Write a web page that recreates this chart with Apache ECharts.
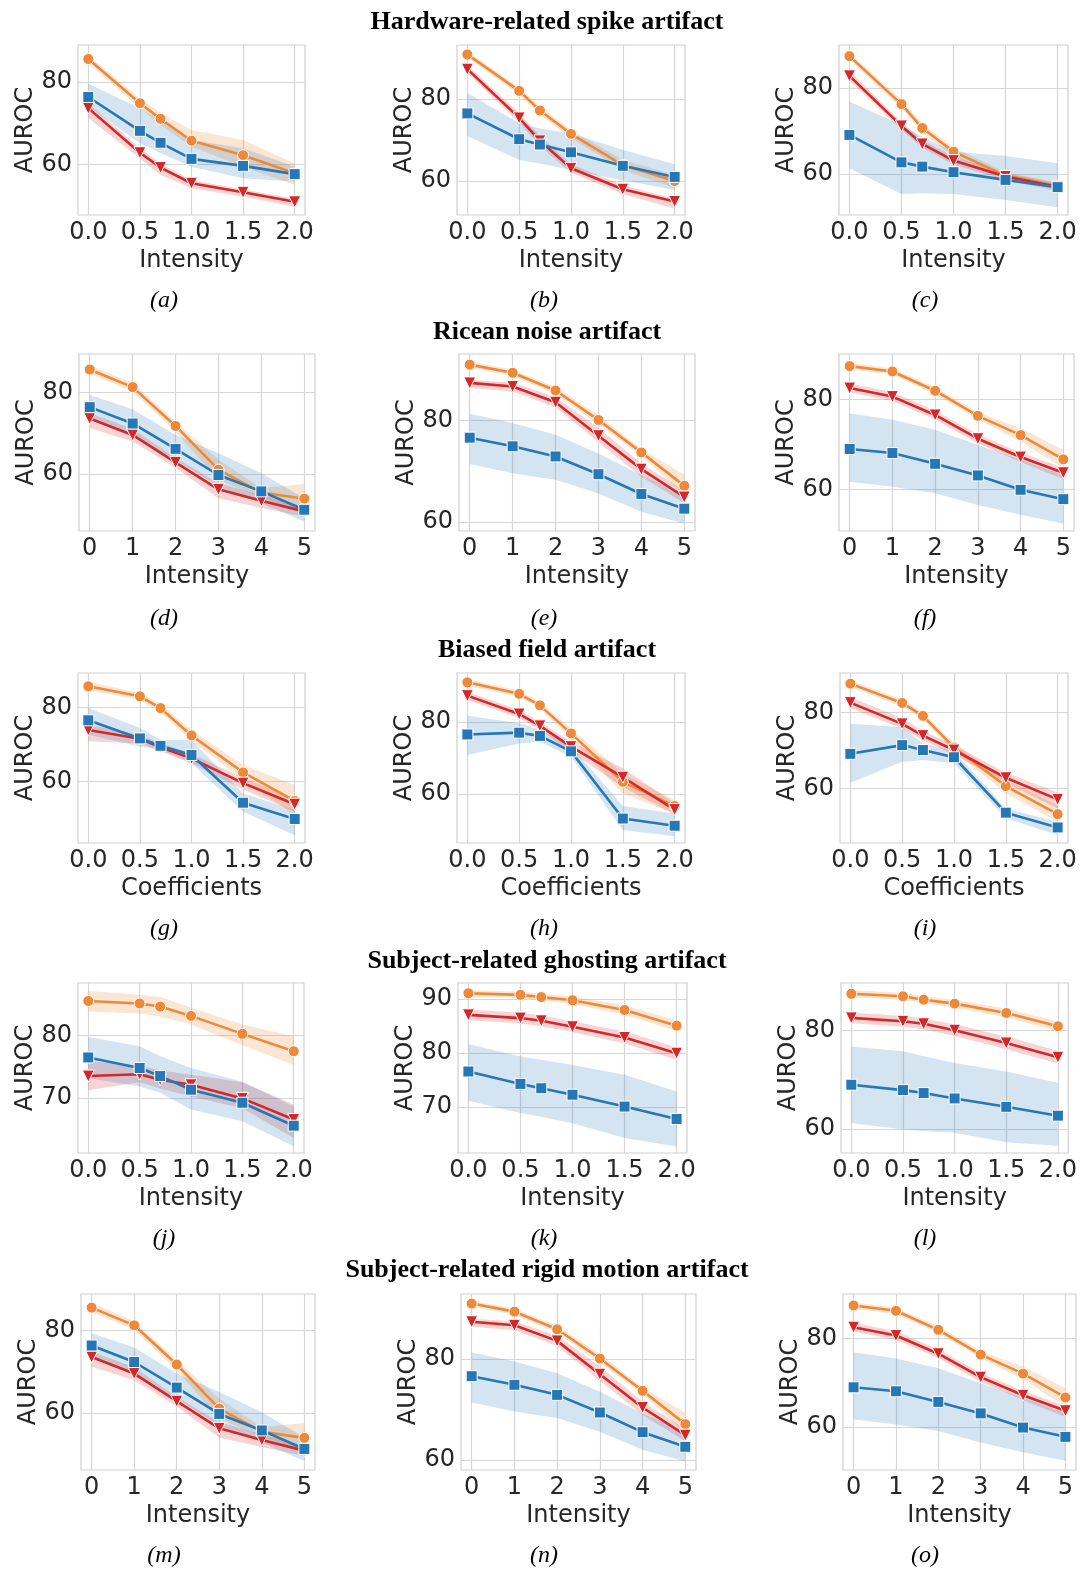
<!DOCTYPE html>
<html>
<head>
<meta charset="utf-8">
<script src="https://cdn.jsdelivr.net/npm/echarts@6/dist/echarts.min.js"></script>
<style>
  html, body { margin: 0; background: #fff; }
  #chart { width: 1080px; height: 1570px; }
</style>
</head>
<body>
<div id="chart"></div>
<script>
// x levels and tick labels
const xLevels2 = [0, 0.5, 0.7, 1.0, 1.5, 2.0];
const xLevels5 = [0, 1, 2, 3, 4, 5];
const xTicks2 = [0, 0.5, 1.0, 1.5, 2.0];
const xTicks5 = [0, 1, 2, 3, 4, 5];
const yTicks6080 = [60, 80];
const yTicks7080 = [70, 80];
const yTicks708090 = [70, 80, 90];

const rowTitles = [
  "Hardware-related spike artifact",
  "Ricean noise artifact",
  "Biased field artifact",
  "Subject-related ghosting artifact",
  "Subject-related rigid motion artifact",
];
const captions = ["(a)", "(b)", "(c)", "(d)", "(e)", "(f)", "(g)", "(h)", "(i)",
  "(j)", "(k)", "(l)", "(m)", "(n)", "(o)"];

// ---- hardware-related spike ----
const aOrange = [85.6, 74.9, 71.1, 65.8, 62.3, 57.9];
const aOrangeLo = [84.6, 73.7, 69.6, 64.4, 59.5, 55.1];
const aOrangeHi = [86.4, 76.1, 72.5, 68.4, 66.0, 60.3];
const aRed = [73.7, 62.9, 59.3, 55.5, 53.3, 51.0];
const aRedLo = [71.3, 61.5, 57.5, 54.3, 52.2, 49.8];
const aRedHi = [74.9, 64.0, 60.3, 56.3, 54.0, 51.8];
const aBlue = [76.4, 68.2, 65.3, 61.4, 59.7, 57.7];
const aBlueLo = [74.1, 65.2, 62.8, 59.5, 56.7, 55.9];
const aBlueHi = [79.6, 73.7, 70.9, 66.0, 64.0, 59.5];

const bOrange = [90.9, 82.0, 77.2, 71.5, 63.9, 60.0];
const bOrangeLo = [90.2, 81.0, 76.2, 70.5, 62.7, 58.3];
const bOrangeHi = [91.5, 82.9, 78.2, 72.5, 65.1, 61.5];
const bRed = [87.3, 75.4, 69.8, 63.1, 58.0, 55.0];
const bRedLo = [86.3, 74.2, 68.6, 62.0, 56.8, 53.2];
const bRedHi = [88.3, 76.6, 71.0, 64.1, 59.0, 55.6];
const bBlue = [76.5, 70.2, 68.9, 67.0, 63.7, 61.0];
const bBlueLo = [71.0, 65.1, 64.3, 62.7, 60.2, 57.8];
const bBlueHi = [81.5, 74.1, 72.8, 71.6, 67.6, 64.1];

const cOrange = [87.5, 76.3, 70.7, 65.2, 59.6, 57.2];
const cOrangeLo = [86.7, 75.3, 69.7, 64.2, 58.8, 56.4];
const cOrangeHi = [88.3, 77.3, 71.7, 66.2, 60.4, 58.0];
const cRed = [82.9, 71.2, 67.0, 63.1, 59.4, 57.0];
const cRedLo = [81.8, 70.3, 66.1, 62.2, 58.6, 56.0];
const cRedHi = [84.0, 72.1, 67.9, 64.0, 60.2, 57.8];
const cBlue = [69.1, 62.7, 61.7, 60.4, 58.6, 56.9];
const cBlueLo = [61.3, 55.3, 55.5, 55.3, 53.9, 52.2];
const cBlueHi = [76.9, 71.4, 68.7, 65.2, 64.2, 62.5];

// ---- ricean noise (same values reused for rigid motion) ----
const dOrange = [85.6, 81.3, 71.8, 61.1, 55.5, 54.0];
const dOrangeLo = [84.5, 80.2, 70.4, 58.6, 54.3, 50.9];
const dOrangeHi = [86.8, 82.3, 72.9, 63.5, 56.6, 57.6];
const dRed = [73.6, 69.6, 62.9, 56.3, 53.5, 50.9];
const dRedLo = [71.3, 68.0, 61.6, 54.1, 51.8, 49.6];
const dRedHi = [74.9, 71.1, 64.0, 57.8, 54.9, 52.1];
const dBlue = [76.4, 72.4, 66.2, 59.8, 55.8, 51.3];
const dBlueLo = [73.3, 69.2, 63.5, 57.0, 52.9, 48.4];
const dBlueHi = [79.4, 75.9, 69.6, 65.1, 60.2, 54.1];

const eOrange = [91.0, 89.4, 85.9, 80.1, 73.7, 67.1];
const eOrangeLo = [90.4, 88.8, 85.2, 79.2, 73.0, 65.3];
const eOrangeHi = [91.6, 90.0, 86.6, 81.0, 74.4, 69.3];
const eRed = [87.4, 86.7, 83.6, 77.0, 70.4, 64.9];
const eRedLo = [86.4, 85.7, 82.6, 75.7, 68.9, 63.7];
const eRedHi = [88.0, 87.5, 84.6, 78.5, 71.5, 66.2];
const eBlue = [76.6, 74.9, 72.9, 69.4, 65.5, 62.6];
const eBlueLo = [71.4, 69.6, 68.3, 65.6, 62.0, 59.7];
const eBlueHi = [81.3, 79.5, 77.2, 73.5, 69.2, 65.6];

const fOrange = [87.5, 86.3, 82.0, 76.4, 72.1, 66.7];
const fOrangeLo = [86.8, 85.6, 81.2, 75.6, 70.7, 64.7];
const fOrangeHi = [88.2, 87.0, 82.8, 77.2, 73.7, 68.8];
const fRed = [82.6, 80.7, 76.6, 71.3, 67.2, 63.7];
const fRedLo = [81.6, 79.7, 75.6, 70.2, 66.1, 62.3];
const fRedHi = [83.6, 81.7, 77.6, 72.3, 68.2, 64.8];
const fBlue = [69.0, 68.1, 65.7, 63.1, 59.9, 57.8];
const fBlueLo = [61.7, 60.6, 59.1, 56.5, 54.3, 52.4];
const fBlueHi = [76.9, 75.5, 73.3, 69.9, 66.6, 63.2];

// ---- biased field ----
const gOrange = [85.7, 83.0, 79.8, 72.4, 62.4, 54.7];
const gOrangeLo = [84.6, 82.0, 78.7, 70.9, 60.4, 50.9];
const gOrangeHi = [86.9, 83.9, 80.9, 73.9, 64.4, 59.0];
const gRed = [73.9, 71.5, 69.2, 66.2, 59.5, 53.8];
const gRedLo = [70.8, 70.2, 68.1, 64.9, 57.8, 51.8];
const gRedHi = [75.3, 72.6, 70.3, 67.5, 60.9, 55.4];
const gBlue = [76.5, 71.6, 69.6, 67.1, 54.2, 49.8];
const gBlueLo = [72.6, 69.4, 68.5, 64.9, 51.8, 45.4];
const gBlueHi = [79.8, 74.4, 71.2, 71.2, 56.7, 52.2];

const hOrange = [91.1, 87.9, 84.7, 76.9, 63.4, 56.7];
const hOrangeLo = [90.2, 87.0, 83.8, 75.5, 60.2, 54.6];
const hOrangeHi = [92.0, 88.8, 85.6, 78.3, 65.8, 58.3];
const hRed = [87.4, 82.3, 79.0, 73.2, 64.7, 55.7];
const hRedLo = [86.2, 81.2, 77.9, 71.8, 62.0, 54.3];
const hRedHi = [88.5, 83.4, 80.1, 74.6, 67.2, 57.5];
const hBlue = [76.6, 77.1, 76.2, 71.9, 53.2, 51.2];
const hBlueLo = [70.9, 74.1, 74.6, 70.4, 50.0, 48.3];
const hBlueHi = [81.8, 79.7, 77.9, 73.4, 56.7, 54.6];

const iOrange = [87.6, 82.5, 79.1, 70.8, 60.6, 53.2];
const iOrangeLo = [86.7, 81.6, 78.2, 69.7, 58.7, 51.2];
const iOrangeHi = [88.5, 83.4, 80.0, 71.9, 62.2, 55.6];
const iRed = [82.6, 77.0, 73.9, 70.1, 62.8, 57.1];
const iRedLo = [81.1, 75.7, 72.6, 68.8, 61.5, 54.7];
const iRedHi = [84.0, 78.5, 75.2, 71.4, 64.1, 58.9];
const iBlue = [69.1, 71.4, 70.1, 68.2, 53.6, 49.7];
const iBlueLo = [61.5, 67.0, 67.5, 66.6, 52.1, 47.7];
const iBlueHi = [77.0, 76.1, 71.9, 69.7, 54.7, 51.2];

// ---- ghosting ----
const jOrange = [85.6, 85.2, 84.7, 83.2, 80.3, 77.5];
const jOrangeLo = [83.9, 83.6, 83.1, 81.8, 78.5, 75.3];
const jOrangeHi = [87.2, 86.6, 86.3, 84.5, 81.8, 79.9];
const jRed = [73.5, 73.8, 72.9, 72.1, 69.9, 66.5];
const jRedLo = [71.2, 72.5, 71.5, 70.2, 68.3, 63.5];
const jRedHi = [75.9, 75.2, 74.4, 73.7, 72.5, 68.9];
const jBlue = [76.5, 74.8, 73.5, 71.3, 69.2, 65.5];
const jBlueLo = [73.2, 71.8, 70.8, 68.1, 66.2, 62.2];
const jBlueHi = [79.8, 78.3, 76.7, 74.8, 72.6, 68.6];

const kOrange = [91.1, 90.8, 90.4, 89.8, 88.0, 85.1];
const kOrangeLo = [90.5, 90.2, 89.8, 89.1, 87.1, 84.1];
const kOrangeHi = [91.7, 91.4, 91.0, 90.5, 88.9, 86.1];
const kRed = [87.1, 86.5, 86.0, 84.9, 82.9, 80.0];
const kRedLo = [86.1, 85.5, 85.0, 83.9, 81.8, 78.8];
const kRedHi = [88.1, 87.5, 87.0, 85.9, 84.0, 81.1];
const kBlue = [76.6, 74.3, 73.5, 72.3, 70.1, 67.8];
const kBlueLo = [71.2, 68.9, 68.2, 67.0, 64.3, 62.7];
const kBlueHi = [81.7, 79.4, 78.8, 77.8, 76.0, 72.9];

const lOrange = [87.5, 87.0, 86.3, 85.5, 83.6, 80.9];
const lOrangeLo = [86.8, 86.3, 85.6, 84.7, 82.7, 79.9];
const lOrangeHi = [88.2, 87.7, 87.0, 86.3, 84.5, 81.9];
const lRed = [82.6, 81.9, 81.4, 80.1, 77.5, 74.6];
const lRedLo = [81.5, 80.8, 80.3, 78.9, 76.2, 73.3];
const lRedHi = [83.7, 83.0, 82.5, 81.3, 78.8, 75.9];
const lBlue = [69.0, 67.9, 67.3, 66.2, 64.5, 62.7];
const lBlueLo = [61.2, 59.9, 59.6, 59.2, 57.3, 56.6];
const lBlueHi = [76.8, 75.8, 74.8, 73.4, 71.7, 69.4];

// panels: x levels, ticks, series arrays (orange / red / blue as [mean, lo, hi])
const panels = [
  { x: xLevels2, xt: xTicks2, yt: yTicks6080, o: [aOrange, aOrangeLo, aOrangeHi], r: [aRed, aRedLo, aRedHi], b: [aBlue, aBlueLo, aBlueHi] },
  { x: xLevels2, xt: xTicks2, yt: yTicks6080, o: [bOrange, bOrangeLo, bOrangeHi], r: [bRed, bRedLo, bRedHi], b: [bBlue, bBlueLo, bBlueHi] },
  { x: xLevels2, xt: xTicks2, yt: yTicks6080, o: [cOrange, cOrangeLo, cOrangeHi], r: [cRed, cRedLo, cRedHi], b: [cBlue, cBlueLo, cBlueHi] },
  { x: xLevels5, xt: xTicks5, yt: yTicks6080, o: [dOrange, dOrangeLo, dOrangeHi], r: [dRed, dRedLo, dRedHi], b: [dBlue, dBlueLo, dBlueHi] },
  { x: xLevels5, xt: xTicks5, yt: yTicks6080, o: [eOrange, eOrangeLo, eOrangeHi], r: [eRed, eRedLo, eRedHi], b: [eBlue, eBlueLo, eBlueHi] },
  { x: xLevels5, xt: xTicks5, yt: yTicks6080, o: [fOrange, fOrangeLo, fOrangeHi], r: [fRed, fRedLo, fRedHi], b: [fBlue, fBlueLo, fBlueHi] },
  { x: xLevels2, xt: xTicks2, yt: yTicks6080, o: [gOrange, gOrangeLo, gOrangeHi], r: [gRed, gRedLo, gRedHi], b: [gBlue, gBlueLo, gBlueHi] },
  { x: xLevels2, xt: xTicks2, yt: yTicks6080, o: [hOrange, hOrangeLo, hOrangeHi], r: [hRed, hRedLo, hRedHi], b: [hBlue, hBlueLo, hBlueHi] },
  { x: xLevels2, xt: xTicks2, yt: yTicks6080, o: [iOrange, iOrangeLo, iOrangeHi], r: [iRed, iRedLo, iRedHi], b: [iBlue, iBlueLo, iBlueHi] },
  { x: xLevels2, xt: xTicks2, yt: yTicks7080, o: [jOrange, jOrangeLo, jOrangeHi], r: [jRed, jRedLo, jRedHi], b: [jBlue, jBlueLo, jBlueHi] },
  { x: xLevels2, xt: xTicks2, yt: yTicks708090, o: [kOrange, kOrangeLo, kOrangeHi], r: [kRed, kRedLo, kRedHi], b: [kBlue, kBlueLo, kBlueHi] },
  { x: xLevels2, xt: xTicks2, yt: yTicks6080, o: [lOrange, lOrangeLo, lOrangeHi], r: [lRed, lRedLo, lRedHi], b: [lBlue, lBlueLo, lBlueHi] },
  { x: xLevels5, xt: xTicks5, yt: yTicks6080, o: [dOrange, dOrangeLo, dOrangeHi], r: [dRed, dRedLo, dRedHi], b: [dBlue, dBlueLo, dBlueHi] },
  { x: xLevels5, xt: xTicks5, yt: yTicks6080, o: [eOrange, eOrangeLo, eOrangeHi], r: [eRed, eRedLo, eRedHi], b: [eBlue, eBlueLo, eBlueHi] },
  { x: xLevels5, xt: xTicks5, yt: yTicks6080, o: [fOrange, fOrangeLo, fOrangeHi], r: [fRed, fRedLo, fRedHi], b: [fBlue, fBlueLo, fBlueHi] },
];

// layout: left, top, width, height, yMin, yMax
const boxes = [
  [78, 45, 227, 170, 47.8, 89.0], [457, 45, 228, 170, 51.7, 93.2], [839, 45, 229, 170, 50.4, 90.1],
  [79, 354, 236, 177, 46.1, 89.4], [459, 354, 236, 177, 58.2, 93.1], [839, 354, 235, 177, 50.7, 90.2],
  [78, 673, 227, 170, 43.3, 89.3], [457, 673, 228, 170, 46.4, 93.7], [840, 673, 228, 170, 45.6, 90.4],
  [78, 983, 226, 170, 61.1, 88.5], [458, 983, 229, 170, 61.5, 93.0], [841, 983, 231, 170, 55.1, 89.7],
  [81, 1294, 234, 176, 46.2, 88.9], [461, 1294, 235, 176, 58.0, 92.9], [843, 1294, 233, 176, 50.3, 90.1],
];
const titleY = [22, 332, 650, 961, 1270];
const captionX = [164, 544, 925];
const captionY = [301, 619, 929, 1239, 1556];

const COLORS = {
  o: { line: "#ef8938", band: "rgba(239,137,56,0.22)", symbol: "circle", size: 11, rot: 0 },
  r: { line: "#d62728", band: "rgba(214,39,40,0.2)", symbol: "triangle", size: 12, rot: 180 },
  b: { line: "#2677b6", band: "rgba(38,119,182,0.2)", symbol: "rect", size: 11, rot: 0 },
};
const tickFont = { fontFamily: "DejaVu Sans", fontSize: 24, color: "#262626" };

const chart = echarts.init(document.getElementById("chart"));
const grid = [], xAxis = [], yAxis = [], series = [], graphic = [];

// band polygon through the axis scales: upper edge forward, lower edge back
function bandRenderer(rows, fill) {
  return function (params, api) {
    if (params.dataIndex !== 0) return null;
    const upper = rows.map((d) => api.coord([d[0], d[2]]));
    const lower = rows.map((d) => api.coord([d[0], d[1]])).reverse();
    return {
      type: "polygon",
      shape: { points: upper.concat(lower) },
      style: { fill: fill },
      silent: true,
    };
  };
}

panels.forEach((p, i) => {
  const [left, top, width, height, yMin, yMax] = boxes[i];
  const isFive = p.x === xLevels5;
  const xPad = isFive ? 0.25 : 0.1;
  grid.push({ left, top, width, height, show: true, borderColor: "#cfcfcf", borderWidth: 1.2, backgroundColor: "transparent" });
  xAxis.push({
    gridIndex: i, type: "value", min: -xPad, max: p.xt[p.xt.length - 1] + xPad,
    axisLine: { show: false }, axisTick: { show: false, customValues: p.xt },
    axisLabel: Object.assign({ customValues: p.xt, margin: 6, formatter: (v) => (isFive ? String(v) : v.toFixed(1)) }, tickFont),
    splitLine: { show: true, lineStyle: { color: "#d6d6d6", width: 1.2 } },
    name: Math.floor(i / 3) === 2 ? "Coefficients" : "Intensity",
    nameLocation: "middle", nameGap: 34, nameTextStyle: tickFont,
  });
  yAxis.push({
    gridIndex: i, type: "value", min: yMin, max: yMax,
    axisLine: { show: false }, axisTick: { show: false, customValues: p.yt },
    axisLabel: Object.assign({ customValues: p.yt, margin: 6 }, tickFont),
    splitLine: { show: true, lineStyle: { color: "#d6d6d6", width: 1.2 } },
    name: "AUROC", nameLocation: "middle", nameGap: 40, nameRotate: 90, nameTextStyle: tickFont,
  });
  ["o", "r", "b"].forEach((key) => {
    const [mean, lo, hi] = p[key];
    const st = COLORS[key];
    const rows = p.x.map((x, k) => [x, lo[k], hi[k]]);
    series.push({
      type: "custom", xAxisIndex: i, yAxisIndex: i, silent: true, z: 1, clip: true,
      encode: { x: 0, y: [1, 2] },
      data: rows,
      renderItem: bandRenderer(rows, st.band),
    });
    series.push({
      type: "line", xAxisIndex: i, yAxisIndex: i, z: 3,
      symbol: st.symbol, symbolSize: st.size, symbolRotate: st.rot, showAllSymbol: true,
      lineStyle: { color: st.line, width: 2.6 },
      itemStyle: { color: st.line, borderColor: "#ffffff", borderWidth: 1 },
      data: p.x.map((x, k) => [x, mean[k]]),
    });
  });
  graphic.push({
    type: "text", x: captionX[i % 3], y: captionY[Math.floor(i / 3)],
    style: { text: captions[i], fontFamily: "Liberation Serif", fontStyle: "italic", fontSize: 24, fill: "#000", align: "center", verticalAlign: "middle" },
  });
});

rowTitles.forEach((t, r) => {
  graphic.push({
    type: "text", x: 547, y: titleY[r],
    style: { text: t, fontFamily: "Liberation Serif", fontWeight: "bold", fontSize: 26, fill: "#000", align: "center", verticalAlign: "middle" },
  });
});

chart.setOption({
  animation: false,
  backgroundColor: "#fff",
  grid, xAxis, yAxis, series, graphic,
});
</script>
</body>
</html>
